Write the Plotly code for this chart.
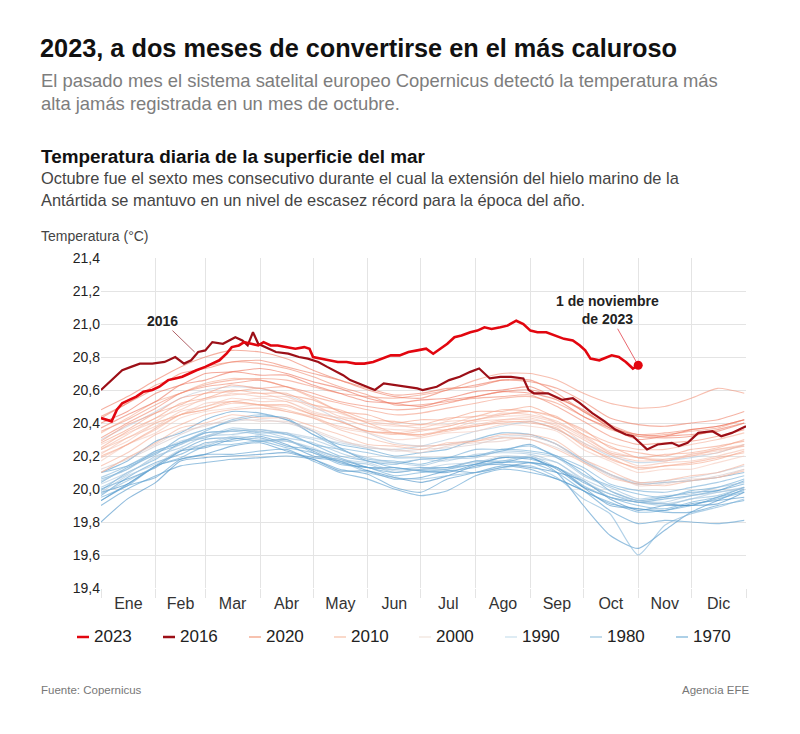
import plotly.graph_objects as go

# ---------------- data ----------------
DAYS_BG = [1, 16, 32, 46, 60, 75, 91, 106, 121, 136, 152, 167, 182, 197, 213, 228, 244, 259, 274, 289, 305, 320, 335, 350, 365]

Y1979 = [19.80, 19.94, 20.04, 20.17, 20.19, 20.20, 20.21, 20.22, 20.18, 20.11, 20.11, 20.07, 20.04, 20.08, 20.14, 20.15, 20.13, 20.10, 20.05, 19.94, 19.87, 19.90, 19.90, 19.91, 19.98]
Y1980 = [19.98, 20.03, 20.14, 20.23, 20.25, 20.30, 20.32, 20.27, 20.20, 20.18, 20.13, 20.13, 20.11, 20.10, 20.15, 20.19, 20.19, 20.12, 20.01, 19.95, 19.92, 19.91, 19.90, 19.95, 20.01]
Y1981 = [19.93, 20.03, 20.14, 20.18, 20.21, 20.26, 20.28, 20.23, 20.19, 20.17, 20.11, 20.06, 20.07, 20.11, 20.10, 20.13, 20.16, 20.13, 20.01, 19.90, 19.88, 19.87, 19.91, 19.93, 19.95]
Y1982 = [20.00, 20.06, 20.13, 20.23, 20.30, 20.31, 20.29, 20.30, 20.23, 20.16, 20.13, 20.12, 20.13, 20.13, 20.17, 20.16, 20.19, 20.10, 19.90, 19.72, 19.64, 19.75, 19.86, 19.93, 20.00]
Y1983 = [20.10, 20.17, 20.29, 20.34, 20.42, 20.47, 20.46, 20.42, 20.35, 20.25, 20.17, 20.15, 20.18, 20.19, 20.20, 20.23, 20.27, 20.19, 20.11, 19.99, 19.93, 19.95, 19.98, 19.99, 20.05]
Y1984 = [19.90, 20.00, 20.08, 20.14, 20.16, 20.18, 20.19, 20.20, 20.18, 20.12, 20.09, 20.01, 19.98, 20.06, 20.10, 20.14, 20.12, 20.06, 19.99, 19.91, 19.88, 19.86, 19.86, 19.90, 19.93]
Y1985 = [19.93, 20.02, 20.07, 20.18, 20.21, 20.21, 20.23, 20.24, 20.17, 20.10, 20.06, 20.00, 19.96, 19.99, 20.08, 20.12, 20.10, 20.06, 19.99, 19.87, 19.79, 19.81, 19.80, 19.79, 19.81]
Y1986 = [19.96, 20.07, 20.16, 20.21, 20.28, 20.29, 20.31, 20.26, 20.24, 20.19, 20.13, 20.10, 20.12, 20.13, 20.15, 20.19, 20.18, 20.13, 20.04, 19.97, 19.92, 19.94, 19.96, 19.99, 20.03]
Y1987 = [20.04, 20.13, 20.21, 20.31, 20.36, 20.41, 20.44, 20.43, 20.33, 20.27, 20.24, 20.20, 20.22, 20.24, 20.30, 20.34, 20.33, 20.27, 20.17, 20.09, 20.03, 20.04, 20.05, 20.07, 20.10]
Y1988 = [20.10, 20.14, 20.22, 20.27, 20.34, 20.35, 20.36, 20.33, 20.27, 20.20, 20.17, 20.13, 20.11, 20.12, 20.15, 20.16, 20.16, 20.10, 19.99, 19.92, 19.86, 19.87, 19.90, 19.94, 19.98]
Y1989 = [19.95, 20.02, 20.14, 20.19, 20.26, 20.27, 20.29, 20.25, 20.22, 20.15, 20.13, 20.08, 20.10, 20.11, 20.13, 20.17, 20.16, 20.13, 20.02, 19.95, 19.90, 19.88, 19.92, 19.95, 19.99]
Y1990 = [19.99, 20.10, 20.18, 20.28, 20.31, 20.36, 20.34, 20.34, 20.27, 20.24, 20.18, 20.17, 20.15, 20.19, 20.20, 20.24, 20.23, 20.20, 20.09, 20.02, 19.97, 19.95, 19.99, 20.01, 20.06]
Y1991 = [20.06, 20.12, 20.23, 20.28, 20.35, 20.42, 20.45, 20.42, 20.33, 20.25, 20.22, 20.19, 20.19, 20.19, 20.24, 20.24, 20.26, 20.20, 20.13, 20.03, 19.99, 19.98, 20.01, 20.04, 20.08]
Y1992 = [20.07, 20.14, 20.23, 20.28, 20.34, 20.35, 20.33, 20.30, 20.22, 20.17, 20.10, 20.07, 20.06, 20.08, 20.10, 20.13, 20.14, 20.07, 19.94, 19.85, 19.60, 19.78, 19.85, 19.89, 19.94]
Y1993 = [19.97, 20.05, 20.14, 20.23, 20.26, 20.31, 20.29, 20.29, 20.24, 20.17, 20.15, 20.10, 20.12, 20.12, 20.17, 20.17, 20.20, 20.13, 20.05, 19.95, 19.92, 19.90, 19.94, 19.96, 20.01]
Y1994 = [20.01, 20.09, 20.20, 20.25, 20.32, 20.33, 20.35, 20.31, 20.28, 20.22, 20.17, 20.16, 20.14, 20.18, 20.19, 20.23, 20.22, 20.19, 20.08, 20.01, 19.94, 19.96, 19.97, 20.01, 20.04]
Y1995 = [20.05, 20.12, 20.22, 20.29, 20.32, 20.37, 20.35, 20.33, 20.30, 20.24, 20.19, 20.16, 20.18, 20.17, 20.21, 20.22, 20.21, 20.16, 20.06, 19.99, 19.93, 19.92, 19.96, 19.98, 20.01]
Y1996 = [19.98, 20.08, 20.15, 20.24, 20.27, 20.32, 20.30, 20.29, 20.25, 20.18, 20.16, 20.11, 20.12, 20.15, 20.16, 20.20, 20.19, 20.16, 20.05, 19.97, 19.93, 19.91, 19.94, 19.98, 20.00]
Y1997 = [20.03, 20.10, 20.19, 20.27, 20.32, 20.35, 20.36, 20.34, 20.31, 20.28, 20.25, 20.24, 20.26, 20.30, 20.35, 20.38, 20.41, 20.36, 20.28, 20.20, 20.16, 20.17, 20.19, 20.22, 20.27]
Y1998 = [20.30, 20.38, 20.47, 20.55, 20.60, 20.62, 20.61, 20.57, 20.50, 20.42, 20.34, 20.28, 20.26, 20.27, 20.30, 20.32, 20.32, 20.27, 20.18, 20.09, 20.04, 20.05, 20.07, 20.10, 20.14]
Y1999 = [20.12, 20.18, 20.26, 20.33, 20.39, 20.41, 20.42, 20.40, 20.35, 20.29, 20.26, 20.23, 20.24, 20.25, 20.27, 20.31, 20.30, 20.25, 20.17, 20.08, 20.03, 20.04, 20.05, 20.08, 20.12]
Y2000 = [20.10, 20.19, 20.27, 20.35, 20.38, 20.43, 20.41, 20.41, 20.36, 20.30, 20.25, 20.24, 20.22, 20.26, 20.28, 20.29, 20.32, 20.27, 20.16, 20.09, 20.02, 20.03, 20.06, 20.07, 20.12]
Y2001 = [20.17, 20.27, 20.34, 20.43, 20.47, 20.49, 20.51, 20.47, 20.44, 20.37, 20.34, 20.30, 20.31, 20.34, 20.35, 20.39, 20.38, 20.35, 20.24, 20.17, 20.10, 20.12, 20.12, 20.16, 20.20]
Y2002 = [20.22, 20.29, 20.40, 20.45, 20.52, 20.53, 20.55, 20.53, 20.47, 20.43, 20.38, 20.36, 20.36, 20.38, 20.42, 20.44, 20.44, 20.40, 20.31, 20.23, 20.19, 20.18, 20.21, 20.24, 20.27]
Y2003 = [20.27, 20.34, 20.41, 20.50, 20.54, 20.58, 20.56, 20.56, 20.49, 20.46, 20.40, 20.38, 20.39, 20.39, 20.44, 20.45, 20.47, 20.40, 20.33, 20.22, 20.19, 20.17, 20.21, 20.23, 20.26]
Y2004 = [20.21, 20.31, 20.38, 20.47, 20.50, 20.55, 20.53, 20.53, 20.46, 20.43, 20.38, 20.34, 20.36, 20.36, 20.41, 20.42, 20.42, 20.39, 20.28, 20.21, 20.14, 20.16, 20.17, 20.20, 20.24]
Y2005 = [20.24, 20.33, 20.43, 20.48, 20.55, 20.57, 20.58, 20.54, 20.51, 20.44, 20.41, 20.39, 20.37, 20.41, 20.42, 20.46, 20.45, 20.41, 20.32, 20.22, 20.19, 20.17, 20.20, 20.22, 20.27]
Y2006 = [20.19, 20.27, 20.36, 20.45, 20.48, 20.52, 20.51, 20.50, 20.45, 20.41, 20.35, 20.34, 20.33, 20.36, 20.39, 20.42, 20.43, 20.38, 20.30, 20.21, 20.17, 20.18, 20.20, 20.24, 20.26]
Y2007 = [20.24, 20.31, 20.40, 20.45, 20.50, 20.53, 20.51, 20.48, 20.43, 20.36, 20.31, 20.27, 20.26, 20.27, 20.29, 20.31, 20.30, 20.24, 20.16, 20.07, 20.03, 20.02, 20.05, 20.07, 20.11]
Y2008 = [20.10, 20.19, 20.28, 20.37, 20.40, 20.45, 20.43, 20.43, 20.38, 20.33, 20.27, 20.26, 20.24, 20.28, 20.29, 20.33, 20.33, 20.29, 20.18, 20.11, 20.04, 20.05, 20.08, 20.10, 20.15]
Y2009 = [20.14, 20.22, 20.33, 20.39, 20.45, 20.48, 20.49, 20.47, 20.43, 20.38, 20.35, 20.33, 20.35, 20.38, 20.42, 20.45, 20.47, 20.43, 20.35, 20.28, 20.24, 20.24, 20.27, 20.30, 20.34]
Y2010 = [20.34, 20.43, 20.53, 20.58, 20.64, 20.67, 20.66, 20.62, 20.55, 20.47, 20.40, 20.34, 20.33, 20.35, 20.38, 20.40, 20.41, 20.36, 20.27, 20.18, 20.13, 20.14, 20.16, 20.19, 20.22]
Y2011 = [20.20, 20.27, 20.37, 20.45, 20.48, 20.53, 20.51, 20.51, 20.45, 20.41, 20.35, 20.34, 20.32, 20.36, 20.38, 20.41, 20.40, 20.37, 20.26, 20.19, 20.12, 20.14, 20.15, 20.18, 20.23]
Y2012 = [20.25, 20.35, 20.43, 20.52, 20.55, 20.60, 20.58, 20.58, 20.51, 20.48, 20.42, 20.41, 20.39, 20.43, 20.44, 20.48, 20.47, 20.44, 20.33, 20.26, 20.19, 20.21, 20.22, 20.25, 20.30]
Y2013 = [20.28, 20.36, 20.46, 20.51, 20.58, 20.59, 20.61, 20.57, 20.54, 20.47, 20.45, 20.40, 20.42, 20.42, 20.47, 20.47, 20.50, 20.43, 20.36, 20.25, 20.22, 20.20, 20.24, 20.26, 20.29]
Y2014 = [20.29, 20.39, 20.46, 20.55, 20.58, 20.63, 20.61, 20.62, 20.56, 20.52, 20.48, 20.45, 20.46, 20.49, 20.52, 20.55, 20.56, 20.52, 20.44, 20.36, 20.32, 20.33, 20.35, 20.37, 20.42]
Y2015 = [20.35, 20.42, 20.51, 20.58, 20.63, 20.66, 20.67, 20.66, 20.62, 20.58, 20.56, 20.55, 20.57, 20.60, 20.66, 20.70, 20.70, 20.66, 20.58, 20.52, 20.49, 20.50, 20.55, 20.61, 20.58]
Y2017 = [20.44, 20.52, 20.63, 20.68, 20.74, 20.77, 20.76, 20.73, 20.68, 20.62, 20.57, 20.51, 20.51, 20.53, 20.55, 20.56, 20.57, 20.50, 20.41, 20.32, 20.27, 20.28, 20.29, 20.32, 20.36]
Y2018 = [20.31, 20.40, 20.49, 20.58, 20.62, 20.64, 20.66, 20.62, 20.58, 20.53, 20.50, 20.48, 20.49, 20.52, 20.56, 20.59, 20.60, 20.56, 20.47, 20.39, 20.33, 20.34, 20.36, 20.38, 20.42]
Y2019 = [20.43, 20.52, 20.61, 20.70, 20.73, 20.77, 20.78, 20.74, 20.70, 20.66, 20.61, 20.57, 20.58, 20.61, 20.62, 20.66, 20.65, 20.61, 20.53, 20.43, 20.39, 20.38, 20.40, 20.42, 20.47]
Y2020 = [20.48, 20.56, 20.66, 20.74, 20.80, 20.84, 20.83, 20.79, 20.72, 20.66, 20.60, 20.56, 20.55, 20.60, 20.63, 20.66, 20.66, 20.58, 20.47, 20.38, 20.32, 20.31, 20.32, 20.36, 20.40]
Y2021 = [20.37, 20.45, 20.53, 20.63, 20.66, 20.71, 20.69, 20.69, 20.63, 20.58, 20.53, 20.52, 20.50, 20.54, 20.56, 20.59, 20.58, 20.54, 20.44, 20.37, 20.30, 20.32, 20.33, 20.35, 20.40]
Y2022 = [20.40, 20.47, 20.58, 20.63, 20.70, 20.71, 20.73, 20.70, 20.65, 20.61, 20.55, 20.52, 20.54, 20.55, 20.59, 20.60, 20.62, 20.55, 20.48, 20.37, 20.33, 20.32, 20.36, 20.38, 20.42]

BG_YEARS = [
    (1979, Y1979), (1980, Y1980), (1981, Y1981), (1982, Y1982), (1983, Y1983),
    (1984, Y1984), (1985, Y1985), (1986, Y1986), (1987, Y1987), (1988, Y1988),
    (1989, Y1989), (1990, Y1990), (1991, Y1991), (1992, Y1992), (1993, Y1993),
    (1994, Y1994), (1995, Y1995), (1996, Y1996), (1997, Y1997), (1998, Y1998),
    (1999, Y1999), (2000, Y2000), (2001, Y2001), (2002, Y2002), (2003, Y2003),
    (2004, Y2004), (2005, Y2005), (2006, Y2006), (2007, Y2007), (2008, Y2008),
    (2009, Y2009), (2010, Y2010), (2011, Y2011), (2012, Y2012), (2013, Y2013),
    (2014, Y2014), (2015, Y2015), (2017, Y2017), (2018, Y2018), (2019, Y2019),
    (2020, Y2020), (2021, Y2021), (2022, Y2022),
]

DAYS_2016 = [1, 7, 13, 18, 23, 30, 37, 43, 48, 52, 56, 60, 64, 70, 74, 77, 81, 84, 87, 90, 96, 100, 107, 113, 118,
             124, 129, 134, 138, 142, 147, 152, 156, 161, 168, 175, 180, 183, 191, 198, 204, 210, 215, 221, 227,
             233, 240, 243, 246, 254, 258, 262, 268, 272, 279, 286, 292, 298, 302, 307, 310, 316, 324, 328, 333,
             339, 347, 352, 358, 366]
T_2016 = [20.60, 20.66, 20.72, 20.74, 20.76, 20.76, 20.77, 20.80, 20.76, 20.78, 20.83, 20.84, 20.89, 20.88, 20.90,
          20.92, 20.90, 20.87, 20.95, 20.88, 20.85, 20.83, 20.82, 20.80, 20.79, 20.77, 20.74, 20.71, 20.69, 20.66,
          20.64, 20.62, 20.60, 20.64, 20.63, 20.62, 20.61, 20.60, 20.62, 20.66, 20.68, 20.71, 20.73, 20.67, 20.68,
          20.68, 20.67, 20.60, 20.58, 20.58, 20.56, 20.54, 20.55, 20.52, 20.46, 20.41, 20.36, 20.33, 20.32, 20.27,
          20.24, 20.27, 20.28, 20.26, 20.28, 20.34, 20.35, 20.32, 20.34, 20.38]

DAYS_2023 = [1, 4, 7, 10, 13, 17, 21, 25, 30, 34, 39, 43, 47, 51, 55, 60, 64, 68, 72, 75, 79, 82, 86, 90, 93,
             97, 101, 106, 111, 116, 119, 121, 125, 130, 135, 140, 145, 150, 155, 160, 165, 170, 175, 180, 185,
             189, 193, 197, 201, 205, 210, 214, 218, 222, 227, 231, 236, 240, 244, 248, 253, 258, 263, 268, 272,
             275, 278, 283, 287, 290, 294, 298, 302, 305]
T_2023 = [20.43, 20.42, 20.41, 20.48, 20.52, 20.54, 20.56, 20.59, 20.60, 20.62, 20.66, 20.67, 20.68, 20.70, 20.72,
          20.74, 20.76, 20.78, 20.82, 20.86, 20.87, 20.89, 20.88, 20.87, 20.89, 20.87, 20.87, 20.86, 20.85, 20.86,
          20.85, 20.80, 20.79, 20.78, 20.77, 20.77, 20.76, 20.76, 20.77, 20.79, 20.81, 20.81, 20.83, 20.84, 20.85,
          20.82, 20.85, 20.88, 20.92, 20.93, 20.95, 20.96, 20.98, 20.97, 20.98, 20.99, 21.02, 21.00, 20.96, 20.95,
          20.95, 20.93, 20.91, 20.90, 20.87, 20.84, 20.79, 20.78, 20.80, 20.81, 20.80, 20.77, 20.73, 20.75]

MONTHS = ["Ene", "Feb", "Mar", "Abr", "May", "Jun", "Jul", "Ago", "Sep", "Oct", "Nov", "Dic"]
MONTH_STARTS = [1, 32, 60, 91, 121, 152, 182, 213, 244, 274, 305, 335, 366]
Y_TICKS = [19.4, 19.6, 19.8, 20.0, 20.2, 20.4, 20.6, 20.8, 21.0, 21.2, 21.4]
LEGEND_LABELS = ["2023", "2016", "2020", "2010", "2000", "1990", "1980", "1970"]

# ---------------- styles ----------------
FONT = "Arial, 'Liberation Sans', Helvetica, sans-serif"
C2023 = "#e2060f"
C2016 = "#9c0f17"
LEGEND_COLORS = ["#e2060f", "#9c0f17", "#f4ae95", "#f8cdb9", "#f3e8e2", "#d3e6f1", "#aed1e6", "#92c1df"]
COLOR_STOPS = [(1979, (66, 140, 196)), (1990, (105, 170, 214)), (1997, (175, 200, 222)),
               (2001, (245, 200, 185)), (2012, (245, 165, 138)), (2022, (236, 112, 88))]


def year_color(y, a=0.6):
    for (y0, c0), (y1, c1) in zip(COLOR_STOPS[:-1], COLOR_STOPS[1:]):
        if y0 <= y <= y1:
            t = (y - y0) / (y1 - y0)
            c = [round(c0[i] + (c1[i] - c0[i]) * t) for i in range(3)]
            return f"rgba({c[0]},{c[1]},{c[2]},{a})"
    return f"rgba(200,200,200,{a})"


# The page has an 8px body margin: the figure starts at page pixel (8, 8).
OFF = 8
W, H = 800 - 2 * OFF, 734 - 2 * OFF
# plot area in page pixels
L, R, T, B = 101, 746, 258, 588


def px(x):
    return (x - L) / (R - L)


def py(y):
    return (B - y) / (B - T)


fig = go.Figure()

for yr, vals in BG_YEARS:
    fig.add_trace(go.Scatter(
        x=DAYS_BG, y=vals, mode="lines",
        line=dict(color=year_color(yr), width=1.1, shape="spline", smoothing=0.6),
        hoverinfo="skip", showlegend=False))

fig.add_trace(go.Scatter(x=DAYS_2016, y=T_2016, mode="lines",
                         line=dict(color=C2016, width=2.2), showlegend=False, hoverinfo="skip"))
fig.add_trace(go.Scatter(x=DAYS_2023, y=T_2023, mode="lines",
                         line=dict(color=C2023, width=2.6), showlegend=False, hoverinfo="skip"))
fig.add_trace(go.Scatter(x=DAYS_2023[-1:], y=T_2023[-1:], mode="markers",
                         marker=dict(color=C2023, size=9), showlegend=False, hoverinfo="skip"))

month_mids = [(a + b) / 2 for a, b in zip(MONTH_STARTS[:-1], MONTH_STARTS[1:])]

fig.update_xaxes(
    range=[MONTH_STARTS[0], MONTH_STARTS[-1]],
    tickmode="array", tickvals=month_mids, ticktext=MONTHS,
    showgrid=False, ticks="", zeroline=False, showline=False,
    tickfont=dict(family=FONT, size=16, color="#333"),
    ticklabelstandoff=4,
    minor=dict(tickmode="array", tickvals=MONTH_STARTS, showgrid=True,
               gridcolor="#e4e4e4", gridwidth=1, ticks="outside", ticklen=9,
               tickcolor="#e4e4e4", tickwidth=1),
)
fig.update_yaxes(
    range=[Y_TICKS[0], Y_TICKS[-1]], tickmode="array", tickvals=Y_TICKS,
    tickformat=".1f", showgrid=True, gridcolor="#e4e4e4", gridwidth=1,
    zeroline=False, showline=False, ticks="",
    tickfont=dict(family=FONT, size=14, color="#222"),
)

ann = []


def text(x, y, s, size, color="#222", xanchor="left", bold=False):
    ann.append(dict(x=px(x), y=py(y), xref="paper", yref="paper", text=(f"<b>{s}</b>" if bold else s),
                    showarrow=False, xanchor=xanchor, yanchor="middle",
                    font=dict(family=FONT, size=size, color=color)))


text(38, 48, "2023, a dos meses de convertirse en el más caluroso", 25.3, "#111", bold=True)
text(39, 80, "El pasado mes el sistema satelital europeo Copernicus detectó la temperatura más", 18.4, "#7d7d7d")
text(39, 103, "alta jamás registrada en un mes de octubre.", 18.4, "#7d7d7d")
text(39, 156, "Temperatura diaria de la superficie del mar", 18.9, "#111", bold=True)
text(39, 178, "Octubre fue el sexto mes consecutivo durante el cual la extensión del hielo marino de la", 16.4, "#444")
text(39, 200, "Antártida se mantuvo en un nivel de escasez récord para la época del año.", 16.4, "#444")
text(39, 236, "Temperatura (°C)", 14, "#444")
text(39, 690, "Fuente: Copernicus", 11.5, "#777")
text(751, 690, "Agencia EFE", 11.5, "#777", xanchor="right")

# annotations with pointer lines
ann.append(dict(x=54, y=20.83, xref="x", yref="y", text="<b>2016</b>", showarrow=True,
                arrowhead=0, arrowwidth=0.8, arrowcolor="#9c3a40", ax=-32, ay=-31,
                font=dict(family=FONT, size=14, color="#222")))
ann.append(dict(x=DAYS_2023[-1], y=T_2023[-1], xref="x", yref="y",
                text="<b>1 de noviembre<br>de 2023</b>", showarrow=True,
                arrowhead=0, arrowwidth=0.8, arrowcolor="#e2404a", ax=-31, ay=-55, standoff=4,
                font=dict(family=FONT, size=14, color="#222")))

# custom legend
shapes = []
leg_x = [92, 178, 264, 349, 434, 520, 605, 691]
for i, (lab, col) in enumerate(zip(LEGEND_LABELS, LEGEND_COLORS)):
    x0 = leg_x[i]
    shapes.append(dict(type="line", xref="paper", yref="paper", x0=px(x0 - 15), x1=px(x0 - 3),
                       y0=py(637), y1=py(637), line=dict(color=col, width=2.5 if i < 2 else 1.5)))
    text(x0, 636, lab, 17, "#222")

fig.update_layout(
    width=W, height=H, autosize=False,
    margin=dict(l=L - OFF, r=(OFF + W) - R, t=T - OFF, b=(OFF + H) - B),
    plot_bgcolor="white", paper_bgcolor="white",
    separators=",.",
    showlegend=False,
    annotations=ann, shapes=shapes,
    font=dict(family=FONT),
)

fig.write_html("out.html")
